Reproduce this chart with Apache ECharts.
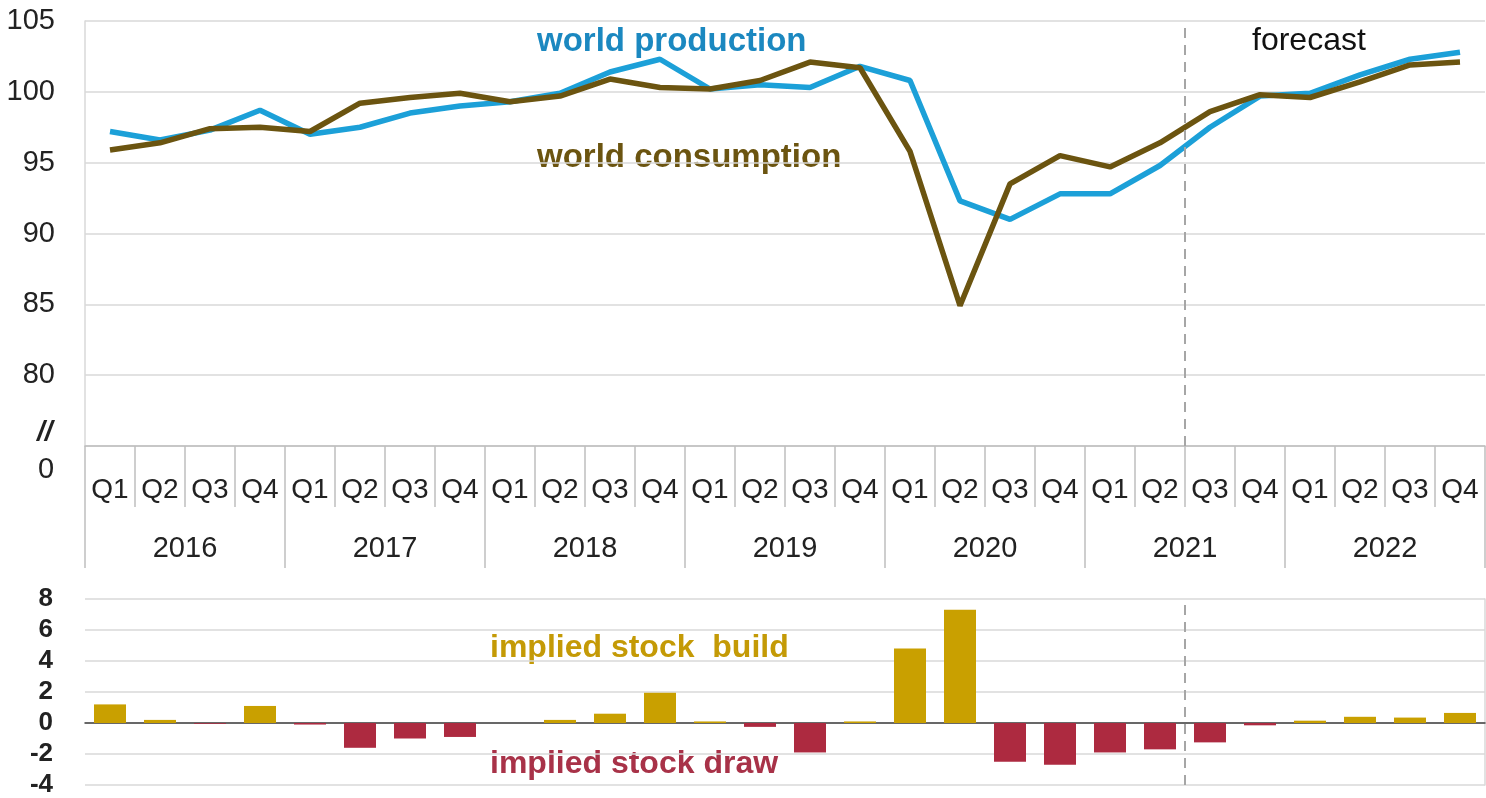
<!DOCTYPE html>
<html lang="en">
<head>
    <meta charset="UTF-8">
    <title>World production and consumption</title>
    <script src="https://cdn.jsdelivr.net/npm/echarts@6/dist/echarts.min.js"></script>
    <style>
        html, body { margin: 0; padding: 0; background: #fff; }
        #chart { width: 1486px; height: 798px; }
    </style>
</head>
<body>
<div id="chart"></div>
<script>
    // quarters 2016 Q1 .. 2022 Q4
    const quarters = [];
    const years = ['2016', '2017', '2018', '2019', '2020', '2021', '2022'];
    years.forEach(function () {
        quarters.push('Q1', 'Q2', 'Q3', 'Q4');
    });

    // million barrels per day
    const production = [97.2, 96.6, 97.3, 98.7, 97.0, 97.5, 98.5, 99.0,
        99.3, 99.9, 101.4, 102.3, 100.2, 100.5, 100.3, 101.8,
        100.8, 92.3, 91.0, 92.8, 92.8, 94.8, 97.5, 99.7,
        99.9, 101.2, 102.3, 102.8];
    const consumption = [95.9, 96.4, 97.4, 97.5, 97.2, 99.2, 99.6, 99.9,
        99.3, 99.7, 100.9, 100.3, 100.2, 100.8, 102.1, 101.7,
        95.8, 84.9, 93.5, 95.5, 94.7, 96.4, 98.6, 99.8,
        99.6, 100.7, 101.9, 102.1];
    // implied stock build (+) / draw (-)
    const stockChange = [1.2, 0.2, -0.05, 1.1, -0.1, -1.6, -1.0, -0.9,
        0.0, 0.2, 0.6, 1.95, 0.1, -0.25, -1.9, 0.1,
        4.8, 7.3, -2.5, -2.7, -1.9, -1.7, -1.25, -0.15,
        0.15, 0.4, 0.35, 0.65];
    const forecastStart = 22; // 2021 Q3

    const FONT = 'Liberation Sans, Arial, sans-serif';
    const BLUE = '#1ca0d8';
    const BROWN = '#6b5410';
    const GOLD = '#c9a000';
    const RED = '#ad2a40';
    const GRIDC = '#d9d9d9';

    const chart = echarts.init(document.getElementById('chart'));

    const dashed = {
        silent: true,
        symbol: 'none',
        label: {show: false},
        lineStyle: {type: [10, 7], color: '#a6a6a6', width: 2},
        data: [{xAxis: forecastStart}]
    };

    const option = {
        animation: false,
        backgroundColor: '#fff',
        textStyle: {fontFamily: FONT},
        grid: [
            {left: 85, right: 1, top: 21, height: 425},
            {left: 85, right: 1, top: 599, height: 186}
        ],
        xAxis: [
            {
                type: 'category', gridIndex: 0, data: quarters, position: 'bottom', offset: 0,
                axisLine: {lineStyle: {color: '#bfbfbf', width: 1.5}},
                axisTick: {show: true, interval: 0, length: 61, lineStyle: {color: '#bfbfbf', width: 1.5}},
                axisLabel: {interval: 0, margin: 30, fontSize: 28, color: '#222', fontFamily: FONT}
            },
            {
                type: 'category', gridIndex: 0, data: years, position: 'bottom', offset: 0,
                axisLine: {show: false},
                axisTick: {show: true, interval: 0, length: 122, lineStyle: {color: '#bfbfbf', width: 1.5}},
                axisLabel: {interval: 0, margin: 88, fontSize: 29, color: '#222', fontFamily: FONT}
            },
            {
                type: 'category', gridIndex: 1, data: quarters,
                axisLine: {onZero: true, lineStyle: {color: '#404040', width: 1.5}},
                axisTick: {show: false},
                axisLabel: {show: false}
            },
            // hidden value axes, only used to place the forecast divider
            {type: 'value', gridIndex: 0, min: 0, max: 28, show: false},
            {type: 'value', gridIndex: 1, min: 0, max: 28, show: false}
        ],
        yAxis: [
            {
                type: 'value', gridIndex: 0, min: 75, max: 105, interval: 5,
                axisLine: {show: true, lineStyle: {color: GRIDC, width: 1.5}},
                axisTick: {show: false},
                splitLine: {lineStyle: {color: GRIDC, width: 1.5}},
                axisLabel: {
                    margin: 30, fontSize: 29, color: '#222', fontFamily: FONT,
                    formatter: function (v) { return v === 75 ? '' : v; }
                }
            },
            {
                type: 'value', gridIndex: 1, min: -4, max: 8, interval: 2,
                axisLine: {show: false},
                axisTick: {show: false},
                splitLine: {lineStyle: {color: GRIDC, width: 1.5}},
                axisLabel: {margin: 32, fontSize: 26, fontWeight: 'bold', color: '#222', fontFamily: FONT}
            },
            {
                type: 'value', gridIndex: 1, min: -4, max: 8, interval: 2, position: 'right',
                axisLine: {show: true, lineStyle: {color: GRIDC, width: 1.5}},
                axisTick: {show: false}, axisLabel: {show: false}, splitLine: {show: false}
            }
        ],
        series: [
            {
                name: 'world production', type: 'line', xAxisIndex: 0, yAxisIndex: 0,
                data: production, symbol: 'none',
                lineStyle: {color: BLUE, width: 5.5}, itemStyle: {color: BLUE}
            },
            {
                name: 'world consumption', type: 'line', xAxisIndex: 0, yAxisIndex: 0,
                data: consumption, symbol: 'none',
                lineStyle: {color: BROWN, width: 5.5}, itemStyle: {color: BROWN}
            },
            {
                name: 'implied stock change', type: 'bar', xAxisIndex: 2, yAxisIndex: 1,
                data: stockChange, barWidth: 32,
                itemStyle: {
                    color: function (p) { return p.value >= 0 ? GOLD : RED; }
                }
            },
            {type: 'line', xAxisIndex: 3, yAxisIndex: 0, data: [], markLine: dashed},
            {type: 'line', xAxisIndex: 4, yAxisIndex: 1, data: [], markLine: dashed}
        ],
        graphic: [
            {type: 'text', left: 537, top: 25, style: {text: 'world production', fill: '#1b88c0', font: 'bold 33px ' + FONT}},
            {type: 'text', left: 537, top: 141, style: {text: 'world consumption', fill: BROWN, font: 'bold 33px ' + FONT}},
            {type: 'text', left: 1252, top: 25, style: {text: 'forecast', fill: '#111', font: '32px ' + FONT}},
            {type: 'text', left: 490, top: 632, style: {text: 'implied stock  build', fill: '#c49a06', font: 'bold 32px ' + FONT}},
            {type: 'text', left: 490, top: 748, style: {text: 'implied stock draw', fill: '#a83248', font: 'bold 32px ' + FONT}},
            {type: 'text', left: 37, top: 418, style: {text: '//', fill: '#222', font: 'italic bold 28px ' + FONT}},
            {type: 'text', left: 38, top: 455, style: {text: '0', fill: '#222', font: '29px ' + FONT}}
        ]
    };

    chart.setOption(option);
</script>
</body>
</html>
